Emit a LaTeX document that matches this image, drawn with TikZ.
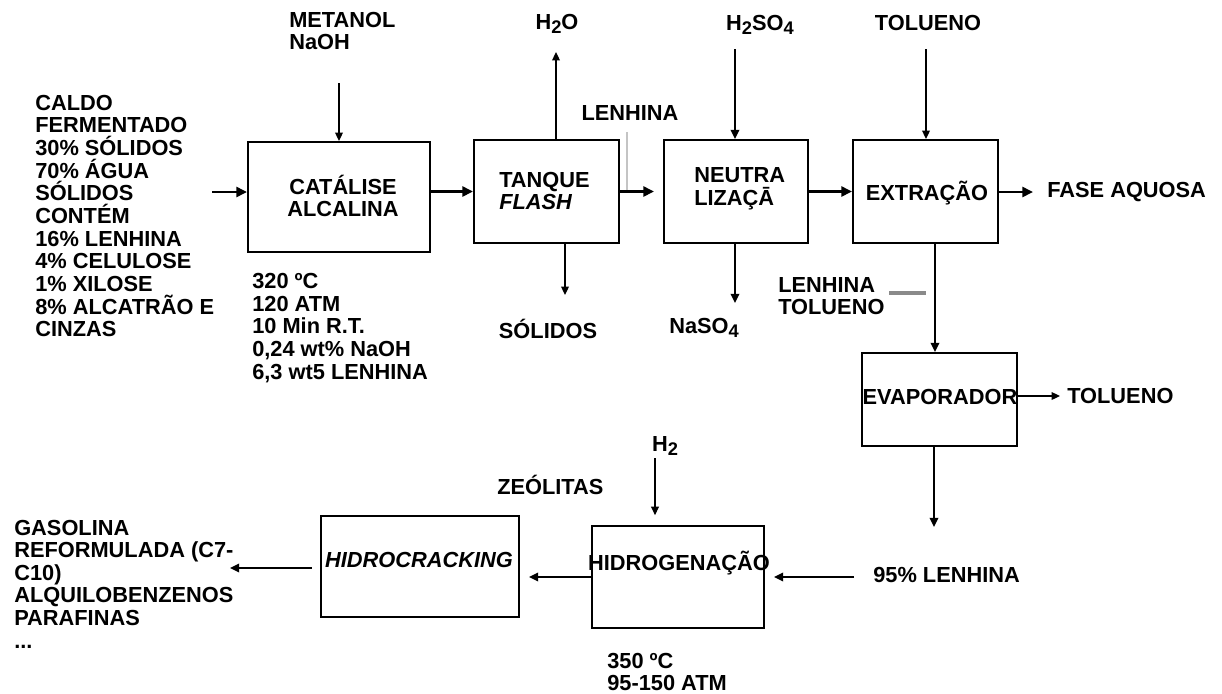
\documentclass[tikz,border=0pt]{standalone}
\usepackage{fontspec}
\setmainfont{Liberation Sans}
\usepackage{tikz}
\usetikzlibrary{arrows.meta,positioning,calc}
\definecolor{flowink}{HTML}{000000}
\definecolor{ghostgray}{HTML}{C4C4C4}
\definecolor{ghostdark}{HTML}{8A8A8A}
\newcommand{\sbs}[1]{\raisebox{-0.35ex}{\fontsize{13}{13}\selectfont #1}}

\begin{document}
\begin{tikzpicture}[
  x=0.025cm, y=-0.025cm,
  font=\fontsize{15.5}{16.1}\selectfont\bfseries,
  unit/.style={draw=flowink, line width=1.4pt, inner sep=0pt},
  lbl/.style={inner sep=0pt, align=left, anchor=west, text=flowink},
  tag/.style={inner sep=0pt, align=center, text=flowink},
  flowthick/.style={-{Triangle[length=7.5pt,width=7pt]}, line width=2.1pt, draw=flowink},
  flowmid/.style={-{Triangle[length=6.5pt,width=6pt]}, line width=1.4pt, draw=flowink},
  flowthin/.style={-{Triangle[length=6pt,width=5.5pt]}, line width=0.9pt, draw=flowink},
  ghost/.style={line width=1.1pt, draw=ghostgray},
  ghostline/.style={line width=2.2pt, draw=ghostdark}
]
  \useasboundingbox (0,0) rectangle (1222,693);

  % process units
  \node[unit, minimum width=4.55cm, minimum height=2.75cm] (catal) at (339,197) {};
  \node[unit, minimum width=3.625cm, minimum height=2.575cm] (tanque) at (546.5,191.5) {};
  \node[unit, minimum width=3.6cm, minimum height=2.575cm] (neutra) at (736,191.5) {};
  \node[unit, minimum width=3.625cm, minimum height=2.575cm] (extr) at (925.5,191.5) {};
  \node[unit, minimum width=3.875cm, minimum height=2.325cm] (evap) at (939.5,399.5) {};
  \node[unit, minimum width=4.3cm, minimum height=2.55cm] (hidrog) at (678,577) {};
  \node[unit, minimum width=4.95cm, minimum height=2.525cm] (hidroc) at (420,566.5) {};

  % unit names
  \node[tag] (catalname) at (343,196) {CATÁLISE\\ALCALINA};
  \node[lbl] (tanquename) at (499,191) {TANQUE\\\textit{FLASH}};
  \node[lbl] (neutraname) at (694,189) {NEUTRA\\LIZAÇĀ};
  \node[tag] (extrname) at (927,193) {EXTRAÇÃO};
  \node[tag] (evapname) at (940,397) {EVAPORADOR};
  \node[tag] (hidrogname) at (679,563) {HIDROGENAÇÃO};
  \node[tag] (hidrocname) at (419,560) {\textit{HIDROCRACKING}};

  % streams
  \node[lbl] (feed) at (35,216) {CALDO\\FERMENTADO\\30\% SÓLIDOS\\70\% ÁGUA\\SÓLIDOS\\CONTÉM\\16\% LENHINA\\4\% CELULOSE\\1\% XILOSE\\8\% ALCATRÃO E\\CINZAS};
  \node[lbl] (metanol) at (289,31) {METANOL\\NaOH};
  \node[lbl] (catalcond) at (252,328) {320 ºC\\120 ATM\\10 Min R.T.\\0,24 wt\% NaOH\\6,3 wt5 LENHINA};
  \node[tag] (agua) at (557,24) {H\sbs{2}O};
  \node[tag] (lenhina) at (630,113) {LENHINA};
  \node[tag] (acido) at (760,25) {H\sbs{2}SO\sbs{4}};
  \node[tag] (tolueno) at (928,23) {TOLUENO};
  \node[lbl] (aquosa) at (1047,192) {FASE AQUOSA};
  \node[tag] (solidos) at (548,329) {SÓLIDOS};
  \node[lbl] (sulfato) at (669,328) {NaSO\sbs{4}};
  \node[lbl] (lentol) at (778,296) {LENHINA\\TOLUENO};
  \node[lbl] (tolrec) at (1067,396) {TOLUENO};
  \node[lbl] (lenpura) at (873,575) {95\% LENHINA};
  \node[tag] (hidrogenio) at (665,446) {H\sbs{2}};
  \node[lbl] (zeolitas) at (497,485) {ZEÓLITAS};
  \node[lbl] (produtos) at (14,584) {GASOLINA\\REFORMULADA (C7-\\C10)\\ALQUILOBENZENOS\\PARAFINAS\\...};
  \node[lbl] (hidrogcond) at (607,672) {350 ºC\\95-150 ATM};

  % connectors
  \coordinate (feedin) at (212,192);
  \coordinate (metin) at (339,83);
  \coordinate (h2oout) at (556,52);
  \coordinate (solout) at (565,295);
  \coordinate (lentop) at (627,132);
  \coordinate (lenbot) at (627,190);
  \coordinate (acidin) at (735,49);
  \coordinate (saltout) at (735,303);
  \coordinate (tolin) at (926,49);
  \coordinate (aqout) at (1033,192);
  \coordinate (evapin) at (935,300);
  \coordinate (markl) at (889,293);
  \coordinate (markr) at (926,293);
  \coordinate (tolout) at (1060,396);
  \coordinate (ligout) at (934,527);
  \coordinate (ligin) at (854,577);
  \coordinate (h2in) at (655,458);
  \coordinate (gasout) at (230,568);

  \draw[flowthick] (feedin) -- (feedin -| catal.west);
  \draw[flowthin] (metin) -- (metin |- catal.north);
  \draw[flowthick] (catal.east |- tanque.west) -- (tanque.west);
  \draw[flowthin] (h2oout |- tanque.north) -- (h2oout);
  \draw[flowthin] (solout |- tanque.south) -- (solout);
  \draw[flowthick, shorten >=6.4pt] (tanque.east) -- (neutra.west);
  \draw[ghost] (lentop) -- (lenbot);
  \draw[flowmid] (acidin) -- (acidin |- neutra.north);
  \draw[flowmid] (saltout |- neutra.south) -- (saltout);
  \draw[flowthick] (neutra.east) -- (extr.west);
  \draw[flowthin] (tolin) -- (tolin |- extr.north);
  \draw[flowthick] (aqout -| extr.east) -- (aqout);
  \draw[flowmid] (evapin |- extr.south) -- (evapin |- evap.north);
  \draw[ghostline] (markl) -- (markr);
  \draw[flowthin] (tolout -| evap.east) -- (tolout);
  \draw[flowmid] (ligout |- evap.south) -- (ligout);
  \draw[flowmid, shorten >=6.4pt] (ligin) -- (ligin -| hidrog.east);
  \draw[flowthin, shorten >=7pt] (h2in) -- (h2in |- hidrog.north);
  \draw[flowmid, shorten >=6.4pt] (hidrog.west) -- (hidrog.west -| hidroc.east);
  \draw[flowmid, shorten <=5.7pt] (gasout -| hidroc.west) -- (gasout);
\end{tikzpicture}
\end{document}
